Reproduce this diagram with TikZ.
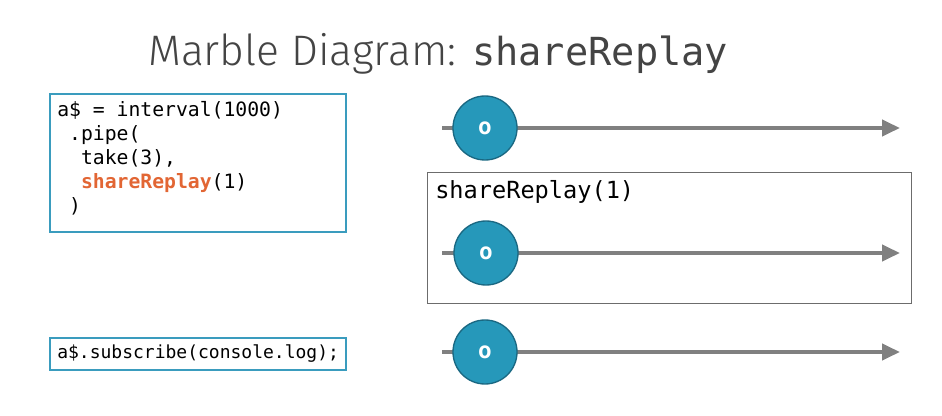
\documentclass[tikz,border=0pt]{standalone}
\usepackage{fontspec}
\setmainfont{DejaVu Sans}
\setmonofont{DejaVu Sans Mono}
\newfontfamily\titlefont{Fira Sans Light}
\usepackage{tikz}
\usetikzlibrary{arrows.meta, positioning}
\definecolor{boxteal}{RGB}{58,156,190}
\definecolor{marblefill}{RGB}{38,152,186}
\definecolor{marbledraw}{RGB}{26,104,130}
\definecolor{lineg}{RGB}{128,128,128}
\definecolor{opcol}{RGB}{226,102,52}
\definecolor{titlecol}{RGB}{68,68,68}
\newcommand{\msp}{\hphantom{a}}
\tikzstyle{codebox} = [rectangle, draw=boxteal, line width=1.5pt, anchor=north west]
\tikzstyle{codetext} = [inner sep=0pt, align=left, anchor=north west, text=black]
\tikzstyle{opbox} = [rectangle, draw=gray!85!black, line width=0.9pt, anchor=north west, minimum width=363pt, minimum height=98.25pt]
\tikzstyle{marble} = [circle, fill=marblefill, draw=marbledraw, line width=1pt, minimum size=48pt, inner sep=0pt, text=white, font=\ttfamily\bfseries\fontsize{17}{17}\selectfont]
\tikzstyle{timeline} = [lineg, line width=3pt, -{Triangle[length=13.5pt,width=12pt]}]

\begin{document}
\begin{tikzpicture}[x=0.75pt, y=-0.75pt]
\useasboundingbox (0,0) rectangle (942,416);

% title
\node (title) [anchor=base west, inner sep=0pt, text=titlecol] at (148,66)
  {{\titlefont\fontsize{32}{32}\selectfont Marble Diagram: }{\ttfamily\fontsize{29}{29}\selectfont shareReplay}};

% code
\node (pipecode) [codebox, minimum width=222pt, minimum height=103.5pt] at (49,93) {};
\node (pipetext) [codetext, font=\ttfamily\fontsize{14.8}{18}\selectfont] at ([shift={(8,8)}]pipecode.north west)
  {a\$\msp=\msp interval(1000)\\
   \msp.pipe(\\
   \msp\msp take(3),\\
   \msp\msp{\color{opcol}\bfseries shareReplay}(1)\\
   \msp)};
\node (subcode) [codebox, minimum width=222pt, minimum height=24pt] at (49,337) {};
\node (subtext) [codetext, anchor=west, font=\ttfamily\fontsize{13.5}{15}\selectfont] at ([xshift=6pt]subcode.west)
  {a\$.subscribe(console.log);};

% operator box
\node (opbox) [opbox] at (427,172) {};
\node (oplabel) [anchor=west, inner sep=0pt, font=\ttfamily\fontsize{17.7}{18}\selectfont] at (435,192)
  {shareReplay(1)};

% timelines
\coordinate (srcstart) at (442,128);
\coordinate (srcend) at (900,128);
\coordinate (replstart) at (442,253);
\coordinate (replend) at (900,253);
\coordinate (substart) at (442,352);
\coordinate (subend) at (900,352);

\draw [timeline] (srcstart) -- (srcend);
\draw [timeline] (replstart) -- (replend);
\draw [timeline] (substart) -- (subend);

\node (srcmarble) [marble] at (485,128) {o};
\node (replmarble) [marble] at (486,253) {o};
\node (submarble) [marble] at (485,352) {o};

\end{tikzpicture}
\end{document}
